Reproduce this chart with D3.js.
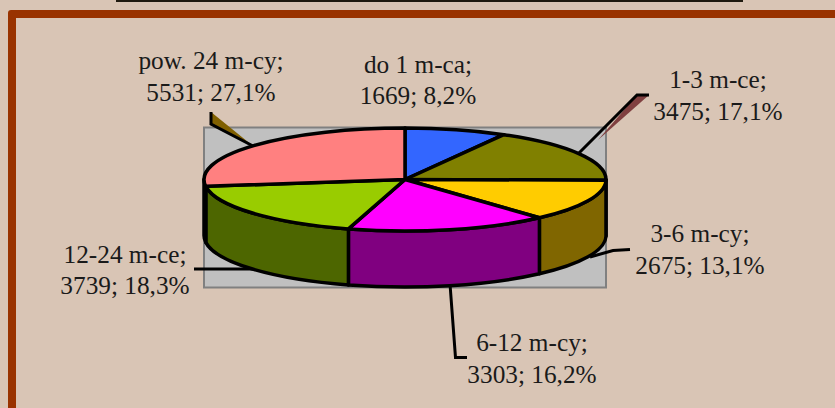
<!DOCTYPE html>
<html><head><meta charset="utf-8">
<script src="https://cdn.jsdelivr.net/npm/d3@7/dist/d3.min.js"></script>
<style>
html,body{margin:0;padding:0;background:#d9c5b5;overflow:hidden}
svg{display:block}
text{font-family:"Liberation Serif",serif;font-size:25.3px;fill:#1a1a1a;text-anchor:middle}
</style></head><body>
<svg id="c" width="835" height="408"></svg>
<script>
const categories = ["do 1 m-ca","1-3 m-ce","3-6 m-cy","6-12 m-cy","12-24 m-ce","pow. 24 m-cy"];
const values = [1669,3475,2675,3303,3739,5531];
const percents = ["8,2%","17,1%","13,1%","16,2%","18,3%","27,1%"];
const colors = ["#3366ff","#808000","#ffcc00","#ff00ff","#99cc00","#ff8080"];

const W=835,H=408;
const svg=d3.select("#c");
const half=c=>{const r=d3.rgb(c);return d3.rgb(r.r/2,r.g/2,r.b/2).formatHex();};

// page furniture
svg.append("rect").attr("x",116).attr("y",0).attr("width",627).attr("height",2).attr("fill","#1f1a10");
svg.append("rect").attr("x",8).attr("y",10).attr("width",W+40).attr("height",H+40).attr("rx",3).attr("fill","#993300");
svg.append("rect").attr("x",16).attr("y",18).attr("width",W+40).attr("height",H+40).attr("fill","#d9c5b5");

// plot area
const plot={x0:204,x1:606,y0:127.5,y1:287.5};
svg.append("rect").attr("x",plot.x0).attr("y",plot.y0).attr("width",plot.x1-plot.x0).attr("height",plot.y1-plot.y0)
  .attr("fill","#c0c0c0").attr("stroke","#808080").attr("stroke-width",2);

// 3D pie geometry
const x=d3.scaleLinear().domain([-1,1]).range([204,606]);
const y=d3.scaleLinear().domain([-1,1]).range([128,231]);
const depth=56;
const rx=(x(1)-x(-1))/2, ry=(y(1)-y(-1))/2;
const px=a=>x(Math.sin(a)), py=a=>y(-Math.cos(a));
const arcs=d3.pie().sort(null)(values);

// leaders that sit behind the pie
const leader=d3.line();
const gL=svg.append("g");
gL.append("path").attr("d",leader([[211,112],[253,146],[211,124]])+"Z").attr("fill",half("#ffc000")).attr("stroke","none");
gL.append("path").attr("d",leader([[637,95],[649,95],[598,140]])+"Z").attr("fill",half(colors[5])).attr("stroke","none");
[
 [[211,112],[211,124],[253,146]],
 [[649,95],[637,95],[578,154]],
 [[194,269],[258,269]],
 [[630,249.5],[613,250.5],[590,257]],
 [[450,284],[455.5,357.5],[467,357.5]]
].forEach(p=>gL.append("path").attr("d",leader(p)).attr("fill","none").attr("stroke","#000").attr("stroke-width",3));

// side walls (only the front half of the ellipse is visible)
const gSide=svg.append("g");
arcs.forEach((d,i)=>{
  const a=Math.max(d.startAngle,Math.PI/2), b=Math.min(d.endAngle,Math.PI*1.5);
  if(b<=a) return;
  const p=`M${px(a)},${py(a)}A${rx},${ry} 0 0 1 ${px(b)},${py(b)}L${px(b)},${py(b)+depth}A${rx},${ry} 0 0 0 ${px(a)},${py(a)+depth}Z`;
  gSide.append("path").attr("d",p).attr("fill",half(colors[i])).attr("stroke","#000").attr("stroke-width",3.5).attr("stroke-linejoin","round");
});

// top slices
const gTop=svg.append("g");
arcs.forEach((d,i)=>{
  const a=d.startAngle,b=d.endAngle,large=(b-a)>Math.PI?1:0;
  const p=`M${x(0)},${y(0)}L${px(a)},${py(a)}A${rx},${ry} 0 ${large} 1 ${px(b)},${py(b)}Z`;
  gTop.append("path").attr("d",p).attr("fill",colors[i]).attr("stroke","#000").attr("stroke-width",3.5).attr("stroke-linejoin","round");
});

// labels
const labelPos=[[418,72.5],[718,88],[700,242],[532,351],[125,262.5],[211,69]];
const gText=svg.append("g");
categories.forEach((c,i)=>{
  const [lx,ly]=labelPos[i];
  gText.append("text").attr("x",lx).attr("y",ly).text(c+";");
  gText.append("text").attr("x",lx).attr("y",ly+31.5).text(values[i]+"; "+percents[i]);
});
</script>
</body></html>
